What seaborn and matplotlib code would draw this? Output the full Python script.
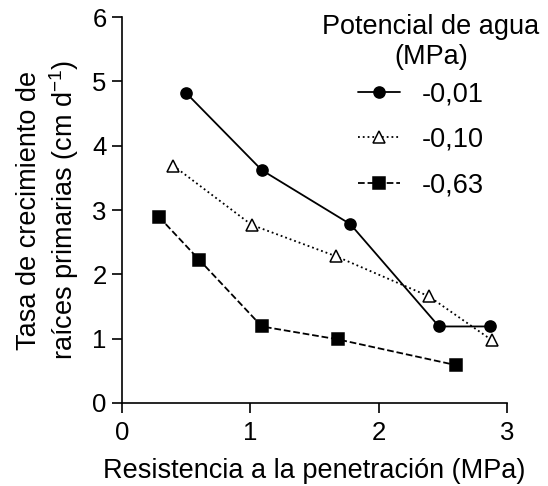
import matplotlib
matplotlib.use("Agg")
import matplotlib.pyplot as plt
import seaborn as sns
import pandas as pd

series_labels = ["-0,01", "-0,10", "-0,63"]
x_001 = [0.50, 1.09, 1.78, 2.47, 2.87]
y_001 = [4.82, 3.62, 2.78, 1.19, 1.19]
x_010 = [0.40, 1.01, 1.67, 2.39, 2.88]
y_010 = [3.69, 2.77, 2.28, 1.66, 0.98]
x_063 = [0.29, 0.60, 1.09, 1.68, 2.60]
y_063 = [2.89, 2.23, 1.19, 0.99, 0.59]

sns.set_style("ticks")
plt.rcParams['font.family'] = ['Liberation Sans', 'DejaVu Sans']
plt.rcParams['mathtext.fontset'] = 'custom'
plt.rcParams['mathtext.rm'] = 'Liberation Sans'
plt.rcParams['mathtext.it'] = 'Liberation Sans'
plt.rcParams['mathtext.default'] = 'rm'
plt.rcParams['text.color'] = 'black'
plt.rcParams['axes.labelcolor'] = 'black'
plt.rcParams['xtick.color'] = 'black'
plt.rcParams['ytick.color'] = 'black'

FS = 19.5
fig = plt.figure(figsize=(5.48, 4.86), dpi=100)
ax = fig.add_axes([0.2226, 0.1708, 0.7025, 0.794])

styles = [
    dict(marker="o", linestyle="-", mfc="black", ms=8),
    dict(marker="^", linestyle=":", mfc="white", ms=8),
    dict(marker="s", linestyle="--", mfc="black", ms=8),
]
data = [(x_001, y_001), (x_010, y_010), (x_063, y_063)]
for (xs, ys), lab, st in zip(data, series_labels, styles):
    df = pd.DataFrame({"x": xs, "y": ys})
    sns.lineplot(data=df, x="x", y="y", ax=ax, color="black", linewidth=1.3,
                 marker=st["marker"], linestyle=st["linestyle"],
                 markerfacecolor=st["mfc"], markeredgecolor="black",
                 markersize=st["ms"], markeredgewidth=1.1, label=lab, sort=False)

ax.set_xlim(0, 3)
ax.set_ylim(0, 6)
ax.set_xticks([0, 1, 2, 3])
ax.set_yticks([0, 1, 2, 3, 4, 5, 6])
ax.tick_params(labelsize=18.5, width=1.2, length=7, color="black", labelcolor="black")
ax.tick_params(axis="x", pad=6)
ax.tick_params(axis="y", pad=4)
for s in ["left", "bottom"]:
    ax.spines[s].set_linewidth(1.2)
    ax.spines[s].set_color("black")
sns.despine(ax=ax)
ax.set_xlabel("Resistencia a la penetración (MPa)", fontsize=FS, labelpad=9, color="black")
ax.set_ylabel("Tasa de crecimiento de\nraíces primarias (cm d$^{-1}$)", fontsize=FS, labelpad=8,
              linespacing=1.22, color="black")

leg = ax.legend(loc="upper left", bbox_to_anchor=(0.613, 0.834),
                frameon=False, fontsize=FS, handlelength=1.55,
                labelspacing=0.73, handletextpad=0.81, borderaxespad=0, borderpad=0,
                labelcolor="black")
ax.text(0.803, 0.9365, "Potencial de agua\n(MPa)", transform=ax.transAxes,
        ha="center", va="center", multialignment="center", fontsize=FS, linespacing=1.2,
        color="black")

fig.savefig("out.png", dpi=100)
